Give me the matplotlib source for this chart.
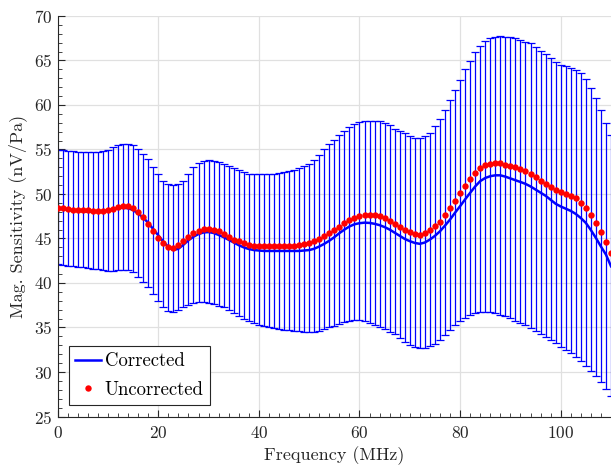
import matplotlib
matplotlib.use("Agg")
import matplotlib.pyplot as plt
from matplotlib.ticker import MultipleLocator

# frequency axis, 1 MHz steps
freq = list(range(0, 111))

corrected = [
    48.45, 48.35, 48.25, 48.18, 48.10, 48.05, 48.00, 48.00, 48.00, 48.05,
    48.15, 48.30, 48.42, 48.45, 48.40, 48.20, 47.80, 47.35, 46.75, 46.05,
    45.35, 44.65, 44.05, 43.70, 43.85, 44.30, 44.80, 45.20, 45.50, 45.68,
    45.72, 45.62, 45.40, 45.15, 44.85, 44.55, 44.25, 44.00, 43.82, 43.70,
    43.65, 43.60, 43.60, 43.60, 43.60, 43.60, 43.60, 43.60, 43.60, 43.65,
    43.70, 43.85, 44.10, 44.40, 44.75, 45.15, 45.60, 46.00, 46.35, 46.60,
    46.72, 46.78, 46.75, 46.65, 46.50, 46.28, 46.00, 45.65, 45.30, 44.95,
    44.70, 44.50, 44.40, 44.55, 44.88, 45.30, 45.81, 46.45, 47.13, 47.90,
    48.63, 49.40, 50.13, 50.85, 51.45, 51.80, 52.00, 52.10, 52.10, 51.95,
    51.75, 51.55, 51.35, 51.14, 50.85, 50.50, 50.15, 49.80, 49.35, 48.90,
    48.60, 48.35, 48.10, 47.76, 47.30, 46.75, 45.95, 45.06, 44.10, 43.19,
    41.88,
]

uncorrected = [
    48.45, 48.40, 48.32, 48.25, 48.20, 48.20, 48.15, 48.12, 48.10, 48.12,
    48.20, 48.35, 48.50, 48.60, 48.62, 48.45, 48.00, 47.39, 46.68, 45.89,
    45.06, 44.50, 44.05, 43.94, 44.28, 44.69, 45.17, 45.59, 45.89, 46.07,
    46.07, 45.93, 45.81, 45.48, 45.17, 44.88, 44.70, 44.50, 44.32, 44.20,
    44.13, 44.15, 44.15, 44.15, 44.15, 44.15, 44.15, 44.20, 44.32, 44.40,
    44.50, 44.76, 44.99, 45.33, 45.59, 45.96, 46.34, 46.75, 47.05, 47.31,
    47.50, 47.65, 47.69, 47.65, 47.50, 47.31, 47.01, 46.68, 46.34, 46.00,
    45.70, 45.51, 45.44, 45.60, 45.95, 46.35, 46.90, 47.65, 48.40, 49.25,
    50.15, 50.95, 51.68, 52.35, 52.90, 53.22, 53.42, 53.50, 53.46, 53.30,
    53.15, 53.00, 52.78, 52.55, 52.30, 51.95, 51.50, 51.15, 50.80, 50.50,
    50.20, 50.00, 49.80, 49.50, 48.96, 48.40, 47.65, 46.72, 45.70, 44.60,
    43.40,
]

upper = [
    54.94, 54.90, 54.85, 54.80, 54.70, 54.68, 54.68, 54.68, 54.70, 54.80,
    54.95, 55.30, 55.50, 55.62, 55.62, 55.45, 55.00, 54.50, 53.90, 53.00,
    52.20, 51.50, 51.10, 51.00, 51.10, 51.50, 52.30, 53.00, 53.50, 53.75,
    53.82, 53.75, 53.60, 53.40, 53.15, 52.90, 52.70, 52.50, 52.30, 52.20,
    52.20, 52.20, 52.25, 52.30, 52.40, 52.50, 52.60, 52.75, 52.90, 53.10,
    53.40, 53.80, 54.40, 55.00, 55.60, 56.10, 56.60, 57.10, 57.55, 57.90,
    58.10, 58.20, 58.24, 58.24, 58.15, 57.95, 57.70, 57.35, 57.10, 56.85,
    56.52, 56.33, 56.30, 56.50, 56.90, 57.68, 58.46, 59.44, 60.56, 61.69,
    62.81, 64.00, 64.98, 65.92, 66.63, 67.19, 67.49, 67.68, 67.70, 67.68,
    67.64, 67.57, 67.30, 67.11, 66.93, 66.55, 66.10, 65.73, 65.24, 64.83,
    64.49, 64.38, 64.19, 63.93, 63.63, 62.92, 61.94, 60.82, 59.44, 58.01,
    56.63,
]

lower = [
    42.10, 42.00, 41.95, 41.90, 41.85, 41.80, 41.70, 41.60, 41.55, 41.45,
    41.40, 41.40, 41.42, 41.45, 41.42, 41.25, 40.70, 40.15, 39.50, 38.76,
    37.98, 37.25, 36.80, 36.75, 37.00, 37.30, 37.55, 37.75, 37.88, 37.88,
    37.75, 37.60, 37.45, 37.25, 36.96, 36.62, 36.30, 35.98, 35.72, 35.48,
    35.28, 35.13, 35.02, 34.90, 34.82, 34.75, 34.70, 34.65, 34.60, 34.55,
    34.53, 34.53, 34.60, 34.78, 35.00, 35.20, 35.43, 35.58, 35.70, 35.80,
    35.83, 35.70, 35.50, 35.28, 35.05, 34.82, 34.55, 34.25, 33.85, 33.40,
    33.03, 32.85, 32.74, 32.74, 32.90, 33.20, 33.60, 34.15, 34.75, 35.25,
    35.72, 36.12, 36.40, 36.60, 36.73, 36.78, 36.74, 36.62, 36.45, 36.25,
    36.03, 35.78, 35.52, 35.25, 34.98, 34.63, 34.28, 33.93, 33.58, 33.22,
    32.86, 32.50, 32.08, 31.70, 31.25, 30.70, 30.10, 29.50, 28.90, 28.10,
    27.30,
]

plt.rcParams['font.family'] = ['cmr10', 'DejaVu Serif']
plt.rcParams['mathtext.fontset'] = 'cm'
plt.rcParams['axes.formatter.use_mathtext'] = True

fig = plt.figure(figsize=(6.11, 4.65), dpi=100)
ax = fig.add_axes([0.0944, 0.1043, 0.9056, 0.8613])

yerr = [[c - lo for c, lo in zip(corrected, lower)],
        [up - c for c, up in zip(corrected, upper)]]

# error bars (no legend entry)
ax.errorbar(freq, corrected, yerr=yerr, fmt='none', ecolor=(0, 0, 1),
            elinewidth=0.9, capsize=3.2, capthick=0.9, zorder=2)
ax.plot(freq, corrected, color=(0, 0, 1), linewidth=1.8, label='Corrected', zorder=3)
ax.plot(freq, uncorrected, 'o', color='red', markersize=4.6, markeredgewidth=0,
        label='Uncorrected', zorder=4)

ax.set_xlim(0, 110)
ax.set_ylim(25, 70)
ax.xaxis.set_major_locator(MultipleLocator(20))
ax.xaxis.set_minor_locator(MultipleLocator(2))
ax.yaxis.set_major_locator(MultipleLocator(5))
ax.yaxis.set_minor_locator(MultipleLocator(1))

ax.grid(which='major', color='#e0e0e0', linewidth=0.9)
ax.set_axisbelow(True)

for side in ['top', 'right']:
    ax.spines[side].set_visible(False)
for side in ['left', 'bottom']:
    ax.spines[side].set_color('#262626')
    ax.spines[side].set_linewidth(0.8)

ax.tick_params(which='both', direction='in', colors='#262626', labelsize=12.5)
ax.tick_params(which='major', length=5, width=0.8)
ax.tick_params(which='minor', length=2.8, width=0.6)
ax.tick_params(axis='x', pad=6)

ax.set_xlabel('Frequency (MHz)', fontsize=13, color='#262626', labelpad=4)
ax.set_ylabel('Mag. Sensitivity (nV/Pa)', fontsize=13, color='#262626', labelpad=5)

leg = ax.legend(loc='lower left', fontsize=13.5, frameon=True, fancybox=False,
                edgecolor='#262626', framealpha=1, handlelength=1.35,
                handletextpad=0.2, borderpad=0.35, labelspacing=0.55,
                borderaxespad=0.6)
leg.get_frame().set_linewidth(0.8)

plt.savefig('out.png', dpi=100)
